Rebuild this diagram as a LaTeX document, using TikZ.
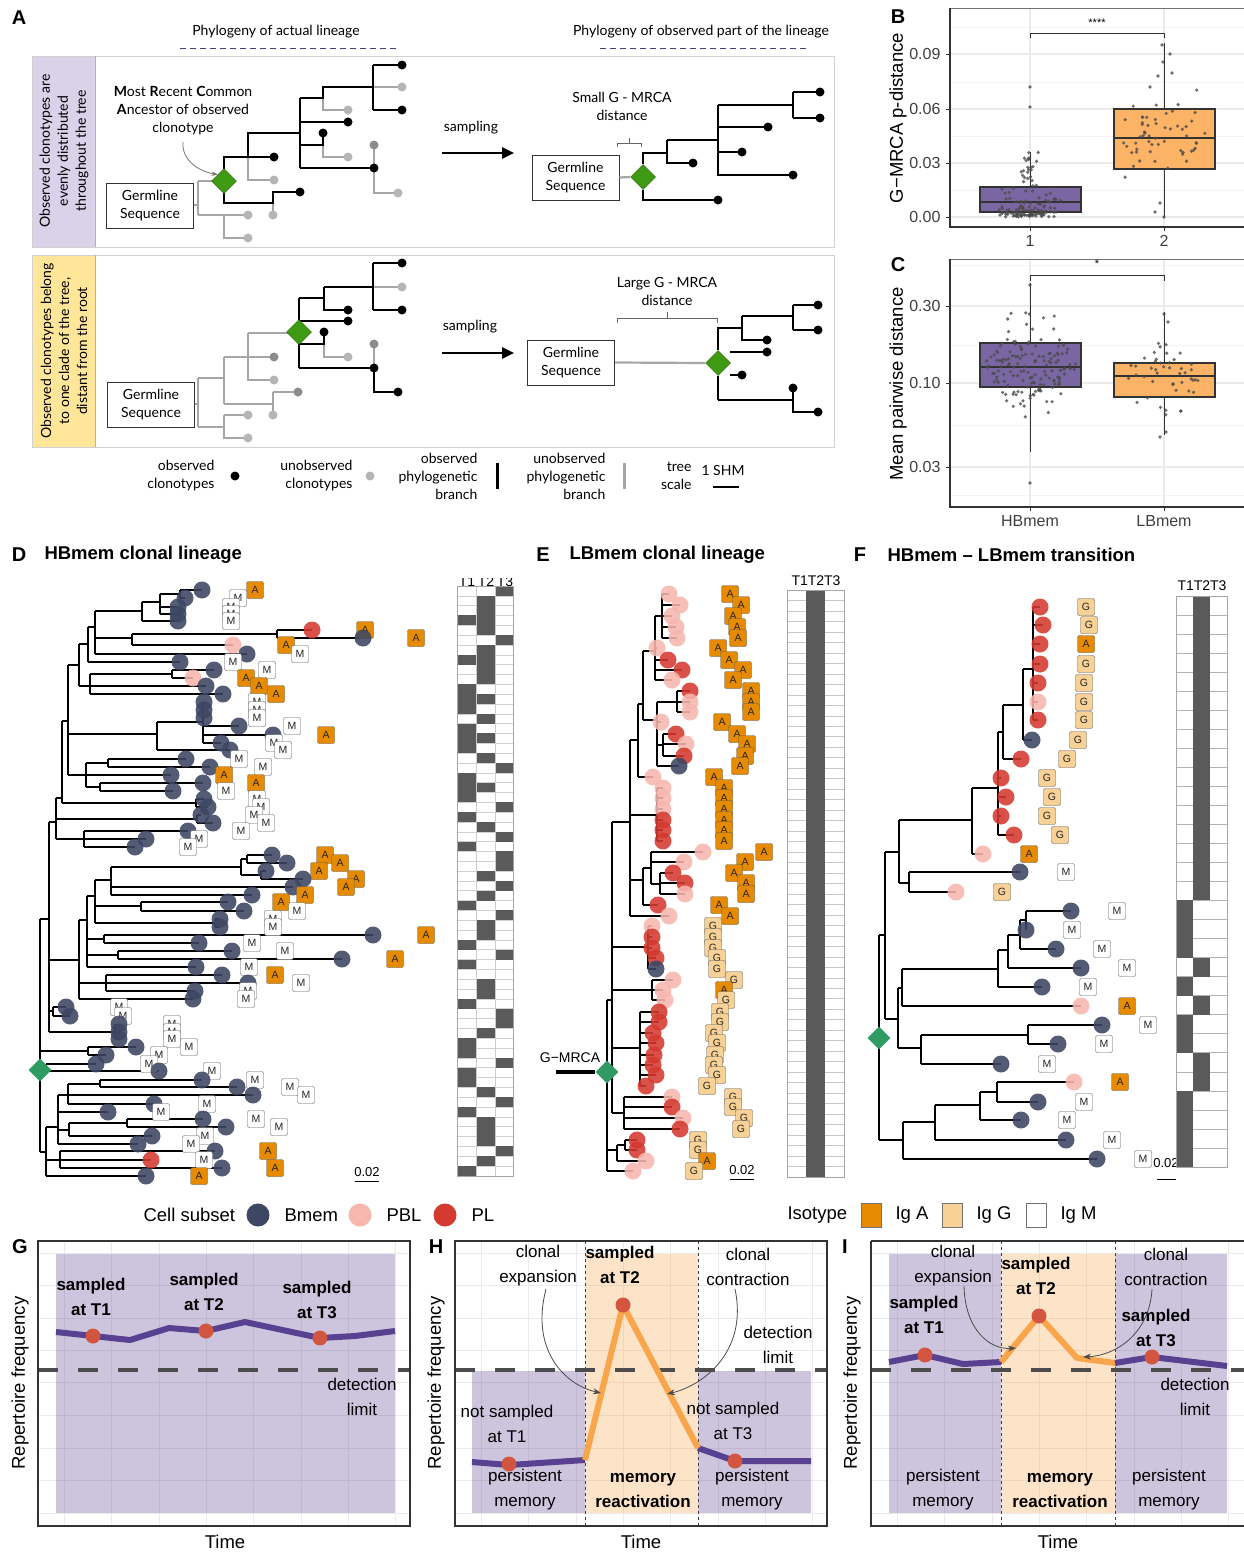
\documentclass[tikz,border=0pt]{standalone}
\usepackage{fontspec}
\setmainfont{Liberation Sans}
\newfontfamily\latofont{Lato}
\usetikzlibrary{positioning, arrows.meta, shapes.geometric}

\definecolor{mrcaA}{HTML}{3E9A13}
\definecolor{mrcaT}{HTML}{2E9C62}
\definecolor{stripP}{HTML}{D9D2E9}
\definecolor{stripY}{HTML}{FFE699}
\definecolor{titleline}{HTML}{4B3F8C}
\definecolor{ubr}{HTML}{A6A6A6}
\definecolor{udot}{HTML}{B5B5B5}
\definecolor{udotd}{HTML}{8C8C8C}
\definecolor{boxP}{HTML}{7A66A3}
\definecolor{boxO}{HTML}{FDB366}
\definecolor{gridc}{HTML}{EBEBEB}
\definecolor{cellb}{HTML}{3D4663}
\definecolor{cellp}{HTML}{F6B7AF}
\definecolor{cellr}{HTML}{D43A2F}
\definecolor{isoA}{HTML}{E68A00}
\definecolor{isoG}{HTML}{F8D196}
\definecolor{isoM}{HTML}{FFFFFF}
\definecolor{heat}{HTML}{5A5A5A}
\definecolor{lineP}{HTML}{574190}
\definecolor{lineO}{HTML}{F9A54C}
\definecolor{dotR}{HTML}{D2553F}

\newcommand\fpanel{\fontsize{20}{22}\selectfont\bfseries}
\newcommand\fschem{\latofont\fontsize{14}{18}\selectfont}
\newcommand\ftick{\fontsize{16}{18}\selectfont}
\newcommand\faxis{\fontsize{18.5}{20}\selectfont}
\newcommand\ftree{\fontsize{18.5}{20}\selectfont\bfseries}
\newcommand\fcurve{\fontsize{17}{25}\selectfont}

\tikzset{
  obsbr/.style={line width=2.2pt, black},
  unobsbr/.style={line width=2.2pt, ubr},
  obsdot/.style={circle, fill=black, inner sep=0pt, minimum size=9pt},
  unobsdot/.style={circle, fill=udot, inner sep=0pt, minimum size=9pt},
  unobsdark/.style={circle, fill=udotd, inner sep=0pt, minimum size=9pt},
  germbox/.style={draw=black!80, fill=white, line width=0.8pt, minimum width=87pt, minimum height=45pt, align=center, font=\fschem},
  greendiamond/.style={diamond, fill=mrcaA, draw=mrcaA!70!black, line width=0.5pt, inner sep=0pt, minimum size=25pt},
  tealdiamond/.style={diamond, fill=mrcaT, inner sep=0pt, minimum size=23pt},
  treebr/.style={line width=1.2pt, black},
  cellnode/.style={circle, inner sep=0pt, minimum size=17pt, fill opacity=0.88},
  isolab/.style={draw=black!65, rounded corners=2pt, inner sep=0pt, minimum width=17pt, minimum height=17pt, font=\fontsize{10.5}{11}\selectfont, text=black!85},
  boxpt/.style={fill=black!70, fill opacity=0.8},
  curvetext/.style={align=center, font=\fcurve},
  curvebold/.style={align=center, font=\fcurve\bfseries},
  heatframe/.style={draw=black!35, line width=0.6pt},
}

% tree D: clades xparent/x/y/ytop/ybottom and leaves y/xparent/xtip/cell/isotype
\def\cladesD{40/40/919/919/1152, 40/49/919/822/1032, 49/56/822/798/839, 56/62/798/721/803,
 62/196/803/799/807, 56/197/819/815/823, 56/84/839/831/847, 62/68/721/665/775,
 68/79/665/644/686, 79/88/644/627/662, 88/95/627/611/654, 95/142/611/602/621,
 142/160/602/594/614, 160/180/594/590/598, 95/132/638/634/645, 132/277/634/630/638,
 79/90/686/674/694, 90/172/674/670/678, 68/157/734/722/750, 157/203/722/702/743,
 68/86/775/763/787, 86/108/763/759/767, 86/100/787/783/791, 49/79/960/920/999,
 79/87/920/896/967, 87/95/896/880/923, 95/111/880/867/895, 111/241/867/859/875,
 241/247/859/855/863, 241/261/875/871/879, 95/141/906/902/911, 95/215/923/919/927,
 87/104/939/935/943, 87/118/955/951/959, 79/106/983/975/991, 49/53/1011/1007/1016,
 49/115/1032/1024/1039, 40/88/1051/1047/1055, 40/46/1067/1064/1071, 40/46/1152/1127/1176,
 46/58/1127/1095/1144, 58/68/1095/1084/1104, 68/100/1084/1080/1087, 58/69/1130/1123/1136,
 69/127/1123/1119/1127, 46/60/1160/1151/1168}
\def\leavesD{590/180/202/b/A, 598/180/185/b/M, 607/160/178/b/M, 614/160/178/b/M, 621/142/178/b/M,
 630/277/312/r/A, 638/277/363/b/A, 645/132/233/p/A, 654/95/247/b/M, 662/88/180/b/M,
 670/172/214/b/M, 678/172/193/p/A, 686/90/206/b/A, 694/90/223/b/A, 702/203/204/b/M,
 710/203/204/b/M, 718/203/204/b/M, 726/203/239/b/M, 735/203/273/b/A, 743/203/221/b/M,
 750/157/230/b/M, 759/108/186/b/M, 767/108/210/b/M, 775/86/171/b/A, 783/100/203/b/A,
 791/100/173/b/M, 799/196/204/b/M, 807/196/208/b/M, 815/197/201/b/M, 823/197/213/b/M,
 831/84/188/b/M, 839/84/146/b/M, 847/84/135/b/M, 855/247/272/b/A, 863/247/287/b/A,
 871/261/266/b/A, 879/261/303/b/A, 887/111/293/b/A, 895/111/252/b/A, 902/141/228/b/A,
 911/141/244/b/M, 919/215/220/b/M, 927/215/220/b/M, 935/104/373/b/A, 943/104/199/b/M,
 951/118/232/b/M, 959/118/342/b/A, 967/87/196/b/M, 975/106/222/b/A, 983/106/248/b/M,
 991/106/195/b/M, 999/79/193/b/M, 1007/53/66/b/M, 1016/53/70/b/M, 1024/115/119/b/M,
 1032/115/119/b/M, 1039/115/119/b/M, 1047/88/136/b/M, 1055/88/106/b/M, 1064/46/96/b/M,
 1071/46/159/b/M, 1080/100/202/b/M, 1087/100/237/b/M, 1095/68/253/b/M, 1104/68/154/b/M,
 1112/58/108/b/M, 1119/127/203/b/M, 1127/127/226/b/M, 1136/69/152/b/M, 1144/58/138/b/M,
 1151/60/215/b/A, 1160/60/151/r/M, 1168/60/222/b/A, 1176/46/146/b/A}

\def\cladesE{607/607/1000/1000/1171, 607/612/1000/822/1113, 612/630/822/740/916, 630/638/740/704/777,
 638/643/704/651/720, 643/655/651/616/680, 655/662/616/594/638, 643/657/720/702/766,
 657/677/702/691/712, 657/663/745/734/756, 630/657/815/788/841, 630/643/880/868/905,
 643/651/868/852/884, 651/660/884/873/894, 612/648/947/926/969, 612/652/990/980/1000,
 612/640/1048/1012/1086, 612/624/1113/1097/1129, 607/617/1150/1145/1161, 617/625/1145/1140/1150}
\def\leavesE{594/662/669/p/A, 605/662/680/p/A, 616/662/672/p/A, 627/662/676/p/A, 638/662/677/p/A,
 648/655/657/p/A, 660/655/668/r/A, 670/655/682/r/A, 680/655/672/p/A, 691/677/690/r/A,
 702/677/690/p/A, 712/677/690/p/A, 722/657/661/p/A, 734/663/676/r/A, 744/663/686/p/A,
 756/663/684/r/A, 766/657/679/b/A, 777/638/653/p/A, 788/657/663/p/A, 798/657/663/p/A,
 809/657/663/p/A, 820/657/663/r/A, 830/657/663/r/A, 841/657/663/r/A, 852/651/703/p/A,
 862/651/684/p/A, 873/660/673/r/A, 883/660/685/r/A, 894/660/685/p/A, 905/643/658/r/A,
 916/630/669/p/A, 926/648/652/p/G, 937/648/652/r/G, 948/648/652/r/G, 958/648/656/r/G,
 969/648/656/b/G, 980/652/673/p/G, 990/652/663/p/A, 1000/652/665/p/G, 1012/640/659/r/G,
 1022/640/659/r/G, 1033/640/653/r/G, 1043/640/656/r/G, 1055/640/654/r/G, 1065/640/653/r/G,
 1075/640/656/r/G, 1086/640/646/r/G, 1097/624/672/p/G, 1107/624/672/r/G, 1118/624/683/p/G,
 1129/624/680/r/G, 1140/625/637/r/G, 1150/625/637/r/G, 1161/617/646/p/A, 1171/607/633/p/G}

\def\cladesF{1023/1033/669/607/720, 1003/1023/705/669/740, 998/1003/732/705/759, 972/998/788/732/835,
 899/972/820/788/854, 899/909/883/872/892, 885/899/852/820/883, 879/885/935/852/1019,
 885/898/1019/988/1048, 898/902/988/969/1006, 902/998/969/950/987, 998/1008/950/935/968,
 1008/1020/935/920/949, 1020/1026/920/911/930, 898/921/1048/1035/1064, 921/1028/1035/1025/1044,
 879/879/935/935/1140, 879/903/1140/1122/1159, 903/935/1122/1105/1140, 935/980/1105/1092/1120,
 980/997/1092/1082/1102}
\def\leavesF{607/1033/1040/r/G, 625/1033/1043/r/G, 644/1033/1040/r/A, 664/1033/1040/r/G, 683/1033/1038/r/G,
 702/1033/1038/p/G, 720/1033/1038/r/G, 740/1023/1032/b/G, 759/1003/1021/r/G, 778/998/1001/r/G,
 797/998/1006/r/G, 816/998/1001/r/G, 835/998/1014/r/G, 854/972/983/p/A, 872/909/1020/b/M,
 892/909/956/p/G, 911/1026/1071/b/M, 930/1026/1026/b/M, 949/1020/1056/b/M, 968/1008/1081/b/M,
 987/998/1042/b/M, 1006/902/1081/p/A, 1025/1028/1102/b/M, 1044/1028/1058/b/M, 1064/921/1001/b/M,
 1082/997/1074/p/A, 1102/997/1038/b/M, 1120/980/1021/b/M, 1140/935/1066/b/M, 1159/903/1097/b/M}

\begin{document}
\begin{tikzpicture}[x=1pt, y=-1pt, >=Stealth]
\useasboundingbox (0,0) rectangle (1244,1553);
\fill[white] (0,0) rectangle (1244,1553);

%% ---------------- A ----------------
\node[font=\fpanel] (lblA) at (19,18) {A};
\node[font=\fschem] (ttlact) at (276,32) {Phylogeny of actual lineage};
\node[font=\fschem] (ttlobs) at (701,32) {Phylogeny of observed part of the lineage};
\draw[titleline, line width=1pt, dash pattern=on 6pt off 4pt] (180,48) -- (398,48);
\draw[titleline, line width=1pt, dash pattern=on 6pt off 4pt] (600,48) -- (808,48);
\fill[stripP] (32,56) rectangle (95,247);
\fill[stripY] (32,255) rectangle (95,447);
\draw[black!18, line width=1pt] (32,56) rectangle (834,247);
\draw[black!18, line width=1pt] (32,255) rectangle (834,447);
\draw[black!30] (95,56) -- (95,247) (95,255) -- (95,447);
\node[rotate=90, align=center, font=\fschem] (stripa) at (64,151) {Observed clonotypes are\\evenly distributed\\throughout the tree};
\node[rotate=90, align=center, font=\fschem] (stripb) at (64,351) {Observed clonotypes belong\\to one clade of the tree,\\distant from the root};

% actual lineage, evenly sampled
\draw[unobsbr] (193,205) -- (198,205) (198,181) -- (198,215) (198,181) -- (224,181)
  (198,215) -- (248,215) (224,215) -- (224,238) -- (248,238)
  (248,157) -- (248,180) -- (274,180)
  (323,98) -- (323,110) -- (348,110) (373,87) -- (402,87)
  (323,145) -- (323,157) -- (348,157)
  (374,145) -- (374,168) (374,168) -- (374,193) -- (398,193)
  (273,203) -- (273,215);
\draw[obsbr] (224,181) -- (224,157) -- (274,157) (248,157) -- (248,133) -- (300,133)
  (300,98) -- (300,168) (300,98) -- (323,98) -- (323,87) -- (373,87)
  (373,65) -- (373,110) (373,65) -- (402,65) (373,110) -- (402,110)
  (300,122) -- (348,122) (300,145) -- (323,145) -- (323,133)
  (300,168) -- (374,168)
  (224,181) -- (224,203) -- (273,203) -- (273,192) -- (300,192);
\foreach \p [count=\k] in {(274,157),(402,65),(402,110),(348,122),(323,133),(374,168),(300,192)}
  \node[obsdot] (tlo\k) at \p {};
\foreach \p [count=\k] in {(274,180),(348,110),(402,87),(348,157),(398,193),(273,215),(248,215),(248,238)}
  \node[unobsdot] (tlu\k) at \p {};
\node[unobsdark] (tld1) at (374,145) {};
\node[germbox] (gTL) at (150,205.5) {Germline\\Sequence};
\node[greendiamond] (dTL) at (224,181) {};
\node[align=center, font=\fschem] (mrcatxt) at (183,111) {\textbf{M}ost \textbf{R}ecent \textbf{C}ommon\\\textbf{A}ncestor of observed\\clonotype};
\draw[-{Stealth[length=6pt]}, black!55, line width=0.8pt] ([yshift=-3pt]mrcatxt.south) to[out=-95, in=170] (dTL.north west);

% observed part, evenly sampled
\node[font=\fschem] (samp1) at (471,128) {sampling};
\coordinate (s1a) at (442,153);
\coordinate (s1b) at (514,153);
\draw[-{Triangle[length=12pt, width=11pt]}, line width=2.6pt] (s1a) -- (s1b);
\node[align=center, font=\fschem] (smalltxt) at (622,106) {Small G - MRCA\\distance};
\draw[black!60, line width=0.8pt] (617,147) -- (617,143) -- (641,143) -- (641,147) (629,143) -- (629,138);
\node[germbox] (gTR) at (575.5,177.5) {Germline\\Sequence};
\node[greendiamond] (dTR) at (643,177) {};
\draw[unobsbr] (gTR.east) -- (dTR.west);
\draw[obsbr] (643,164) -- (643,153) -- (667,153) (643,190) -- (643,200) -- (718,200)
  (667,140) -- (667,163) -- (693,163)
  (667,140) -- (718,140) (718,105) -- (718,175) -- (793,175) (718,105) -- (793,105)
  (793,92) -- (793,118) (793,92) -- (820,92) (793,118) -- (820,118)
  (718,127) -- (768,127) (718,152) -- (742,152);
\foreach \p [count=\k] in {(693,163),(820,92),(820,118),(768,127),(742,152),(793,175),(718,200)}
  \node[obsdot] (tro\k) at \p {};

% actual lineage, one clade
\draw[unobsbr] (195,404) -- (198,404) (198,378) -- (198,427)
  (198,378) -- (224,378) (224,357) -- (224,404)
  (224,357) -- (248,357) (248,333) -- (248,380) -- (274,380) (248,333) -- (299,333) (248,357) -- (274,357)
  (224,404) -- (273,404) (273,392) -- (273,415) (273,392) -- (298,392)
  (198,427) -- (224,427) (224,415) -- (224,438) -- (248,438) (224,415) -- (248,415)
  (324,344) -- (324,357) -- (348,357) (373,287) -- (402,287) (374,344) -- (374,368);
\draw[obsbr] (299,298) -- (299,368) (299,298) -- (324,298) (324,287) -- (324,310) -- (348,310)
  (324,287) -- (373,287) (373,263) -- (373,310) (373,263) -- (402,263) (373,310) -- (402,310)
  (299,321) -- (348,321) (299,344) -- (324,344) -- (324,332)
  (299,368) -- (374,368) -- (374,392) -- (398,392);
\foreach \p [count=\k] in {(348,310),(402,263),(402,310),(348,321),(324,332),(374,368),(398,392)}
  \node[obsdot] (blo\k) at \p {};
\foreach \p [count=\k] in {(274,380),(273,415),(248,415),(248,438),(348,357),(402,287)}
  \node[unobsdot] (blu\k) at \p {};
\foreach \p [count=\k] in {(274,357),(298,392),(374,344)}
  \node[unobsdark] (bld\k) at \p {};
\node[germbox] (gBL) at (151,404.5) {Germline\\Sequence};
\node[greendiamond] (dBL) at (299,332) {};

% observed part, one clade
\node[font=\fschem] (samp2) at (470,327) {sampling};
\coordinate (s2a) at (442,353);
\coordinate (s2b) at (514,353);
\draw[-{Triangle[length=12pt, width=11pt]}, line width=2.6pt] (s2a) -- (s2b);
\node[align=center, font=\fschem] (largetxt) at (667,291) {Large G - MRCA\\distance};
\draw[black!60, line width=0.8pt] (617,323) -- (617,318) -- (717,318) -- (717,323) (667,318) -- (667,312);
\node[germbox] (gBR) at (571,362.5) {Germline\\Sequence};
\node[greendiamond] (dBR) at (718,363) {};
\draw[unobsbr] (gBR.east) -- (dBR.west);
\draw[obsbr] (718,350) -- (718,328) -- (742,328) (718,376) -- (718,400) (742,316) -- (742,340) -- (767,340)
  (742,316) -- (793,316) (793,305) -- (793,330) (793,305) -- (818,305) (793,330) -- (818,330)
  (730,352) -- (767,352) (730,375) -- (742,375) (718,400) -- (793,400) (793,388) -- (793,412) -- (818,412);
\foreach \p [count=\k] in {(767,340),(818,305),(818,330),(767,352),(742,375),(793,388),(818,412)}
  \node[obsdot] (bro\k) at \p {};

% legend of A
\node[align=right, anchor=east, font=\fschem] (lgobs) at (218,476) {observed\\clonotypes};
\node[obsdot] (lgobsdot) at (235,476) {};
\node[align=right, anchor=east, font=\fschem] (lgun) at (356,476) {unobserved\\clonotypes};
\node[unobsdot] (lgundot) at (370,476) {};
\node[align=right, anchor=east, font=\fschem] (lgobr) at (481,476) {observed\\phylogenetic\\branch};
\coordinate (lgobra) at (497,463);
\coordinate (lgobrb) at (497,489);
\draw[line width=3pt] (lgobra) -- (lgobrb);
\node[align=right, anchor=east, font=\fschem] (lgubr) at (609,476) {unobserved\\phylogenetic\\branch};
\coordinate (lguba) at (624,463);
\coordinate (lgubb) at (624,489);
\draw[line width=3pt, ubr] (lguba) -- (lgubb);
\node[align=right, anchor=east, font=\fschem] (lgsc) at (695,476) {tree\\scale};
\node[font=\fschem] (lgshm) at (723,470) {1 SHM};
\coordinate (lgsca) at (713,487);
\coordinate (lgscb) at (739,487);
\draw[line width=2.4pt] (lgsca) -- (lgscb);

%% ---------------- B ----------------
\node[font=\fpanel] (lblB) at (898,17) {B};
\foreach \gy in {27,82,136,190} \draw[gridc!60, line width=0.6pt] (950,\gy) -- (1244,\gy);
\foreach \gy in {54,109,163,217} \draw[gridc, line width=1.1pt] (950,\gy) -- (1244,\gy);
\foreach \gx in {1030,1164} \draw[gridc, line width=1.1pt] (\gx,8) -- (\gx,227);
\draw[black!80, line width=1pt] (1030,152) -- (1030,217) (1164,43) -- (1164,217);
\filldraw[fill=boxP, draw=black!80, line width=1.1pt] (980,187) rectangle (1081,212);
\filldraw[fill=boxO, draw=black!80, line width=1.1pt] (1114,109) rectangle (1215,169);
\draw[black!80, line width=2.6pt] (980,202) -- (1081,202) (1114,138) -- (1215,138);
\pgfmathsetseed{2024}
\foreach \k in {1,...,110}{
  \pgfmathsetmacro\px{1030+62*(rnd-0.5)}
  \pgfmathsetmacro\py{217-32*rnd*rnd}
  \fill[boxpt] (\px,\py) circle (1.8);
}
\foreach \k in {1,...,24}{
  \pgfmathsetmacro\px{1030+18*(rnd-0.5)}
  \pgfmathsetmacro\py{186-34*rnd}
  \fill[boxpt] (\px,\py) circle (1.8);
}
\foreach \k in {1,...,55}{
  \pgfmathsetmacro\px{1164+82*(rnd-0.5)}
  \pgfmathsetmacro\py{138+40*(rnd+rnd+rnd-1.5)}
  \fill[boxpt] (\px,\py) circle (1.8);
}
\foreach \p in {(1030,87),(1030,107),(1162,45),(1170,54),(1163,62),(1158,76),(1150,87),(1172,73),(1155,212),(1164,217),(1160,203)}
  \fill[boxpt] \p circle (1.8);
\draw[black!55, line width=0.8pt] (950,8) -- (1244,8);
\draw[black!80, line width=1.4pt] (950,8) -- (950,227) -- (1244,227);
\foreach \ty/\tl in {217/0.00,163/0.03,109/0.06,54/0.09}{
  \draw[black!80, line width=1pt] (946,\ty) -- (950,\ty);
  \node[anchor=east, font=\ftick, text=black!75] (tkB\ty) at (944,\ty) {\tl};
}
\foreach \tx/\tl in {1030/1,1164/2}{
  \draw[black!80, line width=1pt] (\tx,227) -- (\tx,231);
  \node[font=\ftick, text=black!75] (txB\tx) at (\tx,241) {\tl};
}
\node[rotate=90, font=\faxis] (ytB) at (898,118) {G−MRCA p-distance};
\draw[black!80, line width=0.8pt] (1030,38) -- (1030,33) -- (1164,33) -- (1164,38);
\node[font=\fontsize{11}{12}\selectfont] (sigB) at (1097,23) {****};

%% ---------------- C ----------------
\node[font=\fpanel] (lblC) at (898,265) {C};
\foreach \gy in {265,345,425,495} \draw[gridc!60, line width=0.6pt] (950,\gy) -- (1244,\gy);
\foreach \gy in {306,383,467} \draw[gridc, line width=1.1pt] (950,\gy) -- (1244,\gy);
\foreach \gx in {1030,1164} \draw[gridc, line width=1.1pt] (\gx,259) -- (\gx,507);
\draw[black!80, line width=1pt] (1030,283) -- (1030,452) (1164,312) -- (1164,435);
\filldraw[fill=boxP, draw=black!80, line width=1.1pt] (980,343) rectangle (1081,387);
\filldraw[fill=boxO, draw=black!80, line width=1.1pt] (1114,363) rectangle (1215,397);
\draw[black!80, line width=2.6pt] (980,367) -- (1081,367) (1114,376) -- (1215,376);
\foreach \k in {1,...,150}{
  \pgfmathsetmacro\dy{38*(rnd+rnd+rnd+rnd-2)}
  \pgfmathsetmacro\px{1030+(rnd-0.5)*95*(1-abs(\dy)/100)}
  \pgfmathsetmacro\py{365+\dy}
  \fill[boxpt] (\px,\py) circle (1.8);
}
\foreach \k in {1,...,45}{
  \pgfmathsetmacro\dy{32*(rnd+rnd+rnd+rnd-2)}
  \pgfmathsetmacro\px{1164+(rnd-0.5)*85*(1-abs(\dy)/80)}
  \pgfmathsetmacro\py{374+\dy}
  \fill[boxpt] (\px,\py) circle (1.8);
}
\foreach \p in {(1030,483),(1030,285),(1164,314),(1166,432),(1160,437),(1168,322)}
  \fill[boxpt] \p circle (1.8);
\draw[black!55, line width=0.8pt] (950,259) -- (1244,259);
\draw[black!80, line width=1.4pt] (950,259) -- (950,507) -- (1244,507);
\foreach \ty/\tl in {306/0.30,383/0.10,467/0.03}{
  \draw[black!80, line width=1pt] (946,\ty) -- (950,\ty);
  \node[anchor=east, font=\ftick, text=black!75] (tkC\ty) at (944,\ty) {\tl};
}
\foreach \tx/\tl in {1030/HBmem,1164/LBmem}{
  \draw[black!80, line width=1pt] (\tx,507) -- (\tx,511);
  \node[font=\ftick, text=black!75] (txC\tx) at (\tx,521) {\tl};
}
\node[rotate=90, font=\faxis] (ytC) at (898,384) {Mean pairwise distance};
\draw[black!80, line width=0.8pt] (1030,281) -- (1030,275) -- (1164,275) -- (1164,281);
\node[font=\fontsize{11}{12}\selectfont] (sigC) at (1097,264) {*};

%% ---------------- D ----------------
\node[font=\fpanel] (lblD) at (19,555) {D};
\node[anchor=west, font=\ftree] (ttlD) at (41,555) {HBmem clonal lineage};
\foreach \xa/\xb/\yy/\ya/\yb in \cladesD{
  \draw[treebr] (\xa,\yy) -- (\xb,\yy);
  \draw[treebr] (\xb,\ya) -- (\xb,\yb);
}
\foreach \ly/\lp/\lt/\lc/\li in \leavesD
  \draw[treebr] (\lp,\ly) -- (\lt,\ly);
\foreach \ly/\lp/\lt/\lc/\li [count=\k] in \leavesD{
  \node[cellnode, fill=cell\lc] (dD\k) at (\lt,\ly) {};
  \node[isolab, fill=iso\li] (iD\k) at (\lt+53,\ly) {\li};
}
\node[tealdiamond] (dDroot) at (40,1070) {};
\node[font=\fontsize{13}{14}\selectfont] (scD) at (367,1172) {0.02};
\draw[line width=1pt] (355,1181) -- (379,1181);
% heatmap D
\foreach \r in {1,...,59} \draw[black!18, line width=0.5pt] (457,586+\r*9.83) -- (513,586+\r*9.83);
\foreach \r in {3,7,10,11,12,14,15,16,19,20,21,23,26,32,36,38,42,46,47,49,50,53,59}
  \fill[heat] (457,586+\r*9.83) rectangle ++(19,9.83);
\foreach \r in {1,2,3,4,6,7,8,9,11,13,15,17,20,24,29,31,34,35,40,41,45,51,54,55,56,58}
  \fill[heat] (476,586+\r*9.83) rectangle ++(19,9.83);
\foreach \r in {0,5,18,22,25,27,28,30,33,37,43,44,48,52,57}
  \fill[heat] (495,586+\r*9.83) rectangle ++(18,9.83);
\draw[black!20] (476,586) -- (476,1176) (495,586) -- (495,1176);
\draw[heatframe] (457,586) rectangle (513,1176);
\begin{scope}
  \clip (450,578.6) rectangle (520,592);
  \node[font=\fontsize{14}{15}\selectfont] (hdD1) at (467,582) {T1};
  \node[font=\fontsize{14}{15}\selectfont] (hdD2) at (486,582) {T2};
  \node[font=\fontsize{14}{15}\selectfont] (hdD3) at (505,582) {T3};
\end{scope}

%% ---------------- E ----------------
\node[font=\fpanel] (lblE) at (543,555) {E};
\node[anchor=west, font=\ftree] (ttlE) at (566,555) {LBmem clonal lineage};
\foreach \xa/\xb/\yy/\ya/\yb in \cladesE{
  \draw[treebr] (\xa,\yy) -- (\xb,\yy);
  \draw[treebr] (\xb,\ya) -- (\xb,\yb);
}
\foreach \ly/\lp/\lt/\lc/\li in \leavesE
  \draw[treebr] (\lp,\ly) -- (\lt,\ly);
\foreach \ly/\lp/\lt/\lc/\li [count=\k] in \leavesE{
  \node[cellnode, fill=cell\lc] (dE\k) at (\lt,\ly) {};
  \node[isolab, fill=iso\li] (iE\k) at (\lt+61,\ly) {\li};
}
\node[font=\fontsize{14}{15}\selectfont] (gmrca) at (570,1058) {G−MRCA};
\node[tealdiamond] (dEroot) at (607,1072) {};
\coordinate (gmrcaend) at (556,1072);
\draw[line width=4pt] (gmrcaend) -- (dEroot.west);
\node[font=\fontsize{13}{14}\selectfont] (scE) at (742,1170) {0.02};
\draw[line width=1pt] (730,1179) -- (754,1179);
% heatmap E
\foreach \r in {1,...,55} \draw[black!22, line width=0.5pt] (787,590+\r*10.48) -- (844,590+\r*10.48);
\fill[heat] (806,590) rectangle (825,1177);
\draw[heatframe] (787,590) rectangle (844,1177);
\node[font=\fontsize{14}{15}\selectfont] (hdE) at (816,581) {T1T2T3};

%% ---------------- F ----------------
\node[font=\fpanel] (lblF) at (860,555) {F};
\node[anchor=west, font=\ftree] (ttlF) at (884,555) {HBmem – LBmem transition};
\foreach \xa/\xb/\yy/\ya/\yb in \cladesF{
  \draw[treebr] (\xa,\yy) -- (\xb,\yy);
  \draw[treebr] (\xb,\ya) -- (\xb,\yb);
}
\foreach \ly/\lp/\lt/\lc/\li in \leavesF
  \draw[treebr] (\lp,\ly) -- (\lt,\ly);
\foreach \ly/\lp/\lt/\lc/\li [count=\k] in \leavesF{
  \node[cellnode, fill=cell\lc] (dF\k) at (\lt,\ly) {};
  \node[isolab, fill=iso\li] (iF\k) at (\lt+46,\ly) {\li};
}
\node[tealdiamond] (dFroot) at (879,1038) {};
\node[font=\fontsize{13}{14}\selectfont] (scF) at (1166,1163) {0.02};
\draw[line width=1pt] (1157,1179) -- (1176,1179);
% heatmap F
\foreach \r in {1,...,29} \draw[black!30, line width=0.5pt] (1176,596+\r*19.03) -- (1227,596+\r*19.03);
\foreach \r in {16,17,18,20,22,23,26,27,28,29}
  \fill[heat] (1176,596+\r*19.03) rectangle ++(17,19.03);
\foreach \r in {0,...,15,19,21,24,25}
  \fill[heat] (1193,596+\r*19.03) rectangle ++(17,19.03);
\draw[heatframe] (1176,596) rectangle (1227,1167);
\node[font=\fontsize{14}{15}\selectfont] (hdF) at (1202,586) {T1T2T3};

%% ---------------- legend row ----------------
\node[anchor=west, font=\faxis] (lgcell) at (140,1215) {Cell subset};
\node[circle, fill=cellb, minimum size=23pt, inner sep=0pt] (lgb) at (258,1215) {};
\node[anchor=west, font=\faxis] (lgbt) at (281,1215) {Bmem};
\node[circle, fill=cellp, minimum size=23pt, inner sep=0pt] (lgp) at (360,1215) {};
\node[anchor=west, font=\faxis] (lgpt) at (383,1215) {PBL};
\node[circle, fill=cellr, minimum size=23pt, inner sep=0pt] (lgr) at (445,1215) {};
\node[anchor=west, font=\faxis] (lgrt) at (468,1215) {PL};
\node[anchor=west, font=\faxis] (lgiso) at (784,1215) {Isotype};
\foreach \cx/\ci/\ct in {871/isoA/Ig A, 952/isoG/Ig G, 1036/isoM/Ig M}{
  \node[draw=black!55, fill=\ci, minimum width=20pt, minimum height=24pt, inner sep=0pt] (lg\ci) at (\cx,1215) {};
  \node[anchor=west, font=\faxis] (lgt\ci) at (\cx+21,1215) {\ct};
}

%% ---------------- G ----------------
\node[font=\fpanel] (lblG) at (20,1247) {G};
\foreach \gx in {64,111,159,206,253,301,348,395} \draw[gridc, line width=1pt] (\gx,1241) -- (\gx,1526);
\foreach \gy in {1253,1285,1318,1350,1382,1415,1448,1480,1513} \draw[gridc, line width=1pt] (38,\gy) -- (410,\gy);
\fill[lineP, fill opacity=0.3] (56,1254) rectangle (395,1513);
\draw[black!70, line width=4.5pt, dash pattern=on 20pt off 20pt] (38,1370) -- (410,1370);
\draw[lineP, line width=6pt, line join=round] (56,1332) -- (93,1336) -- (130,1340) -- (169,1328) -- (206,1331) -- (245,1322) -- (320,1338) -- (355,1336) -- (395,1331);
\foreach \p [count=\k] in {(93,1336),(206,1331),(320,1338)}
  \node[circle, fill=dotR, minimum size=15pt, inner sep=0pt] (gdot\k) at \p {};
\node[curvebold] (gs1) at (91,1297) {sampled\\at T1};
\node[curvebold] (gs2) at (204,1292) {sampled\\at T2};
\node[curvebold] (gs3) at (317,1300) {sampled\\at T3};
\node[curvetext] (gdl) at (362,1397) {detection\\limit};
\draw[black!80, line width=1.2pt] (38,1241) rectangle (410,1526);
\node[rotate=90, font=\faxis] (yG) at (20,1383) {Repertoire frequency};
\node[font=\faxis] (tG) at (225,1542) {Time};

%% ---------------- H ----------------
\node[font=\fpanel] (lblH) at (436,1247) {H};
\foreach \gx in {481,528,576,623,670,718,765,812} \draw[gridc, line width=1pt] (\gx,1241) -- (\gx,1526);
\foreach \gy in {1253,1285,1318,1350,1382,1415,1448,1480,1513} \draw[gridc, line width=1pt] (455,\gy) -- (827,\gy);
\fill[lineP, fill opacity=0.3] (472,1371) rectangle (585,1513);
\fill[lineP, fill opacity=0.3] (698,1371) rectangle (811,1513);
\fill[lineO, fill opacity=0.3] (585,1254) rectangle (698,1513);
\draw[black!75, dashed, line width=1pt] (585,1241) -- (585,1526) (698,1241) -- (698,1526);
\draw[black!70, line width=4.5pt, dash pattern=on 20pt off 20pt] (455,1370) -- (827,1370);
\draw[lineP, line width=6pt, line join=round] (472,1462) -- (509,1465) -- (585,1460);
\draw[lineP, line width=6pt, line join=round] (698,1448) -- (735,1461) -- (811,1461);
\draw[lineO, line width=6pt, line join=round] (585,1460) -- (623,1305) -- (698,1448);
\foreach \p [count=\k] in {(509,1464),(623,1305),(735,1461)}
  \node[circle, fill=dotR, minimum size=15pt, inner sep=0pt] (hdot\k) at \p {};
\node[curvetext] (hexp) at (538,1266) {clonal\\expansion};
\node[curvebold] (hs2) at (620,1265) {sampled\\at T2};
\node[curvetext] (hcon) at (748,1267) {clonal\\contraction};
\node[curvetext] (hdl) at (778,1345) {detection\\limit};
\node[curvetext] (hn1) at (507,1424) {not sampled\\at T1};
\node[curvetext] (hn3) at (733,1421) {not sampled\\at T3};
\node[curvetext] (hp1) at (525,1490) {persistent\\memory};
\node[curvebold] (hmr) at (643,1490) {memory\\reactivation};
\node[curvetext] (hp3) at (752,1490) {persistent\\memory};
\coordinate (hexpend) at (601,1393);
\coordinate (hconend) at (667,1394);
\draw[-{Stealth[length=8pt]}, black!70, line width=0.8pt] (546,1289) .. controls (530,1350) and (565,1385) .. (hexpend);
\draw[-{Stealth[length=8pt]}, black!70, line width=0.8pt] (735,1289) .. controls (748,1350) and (705,1385) .. (hconend);
\draw[black!80, line width=1.2pt] (455,1241) rectangle (827,1526);
\node[rotate=90, font=\faxis] (yH) at (436,1383) {Repertoire frequency};
\node[font=\faxis] (tH) at (641,1542) {Time};

%% ---------------- I ----------------
\node[font=\fpanel] (lblI) at (845,1247) {I};
\foreach \gx in {897,944,992,1039,1086,1134,1181,1228} \draw[gridc, line width=1pt] (\gx,1241) -- (\gx,1526);
\foreach \gy in {1253,1285,1318,1350,1382,1415,1448,1480,1513} \draw[gridc, line width=1pt] (871,\gy) -- (1244,\gy);
\fill[lineP, fill opacity=0.3] (889,1254) rectangle (1001,1513);
\fill[lineP, fill opacity=0.3] (1115,1254) rectangle (1227,1513);
\fill[lineO, fill opacity=0.3] (1001,1254) rectangle (1115,1513);
\draw[black!75, dashed, line width=1pt] (1001,1241) -- (1001,1526) (1115,1241) -- (1115,1526);
\draw[black!70, line width=4.5pt, dash pattern=on 20pt off 20pt] (871,1370) -- (1244,1370);
\draw[lineP, line width=6pt, line join=round] (889,1362) -- (925,1355) -- (963,1364) -- (1001,1362);
\draw[lineO, line width=6pt, line join=round] (1001,1362) -- (1039,1316) -- (1077,1358) -- (1115,1363);
\draw[lineP, line width=6pt, line join=round] (1115,1363) -- (1152,1357) -- (1227,1366);
\foreach \p [count=\k] in {(925,1355),(1039,1316),(1152,1357)}
  \node[circle, fill=dotR, minimum size=15pt, inner sep=0pt] (idot\k) at \p {};
\node[curvetext] (iexp) at (953,1266) {clonal\\expansion};
\node[curvebold] (is2) at (1036,1276) {sampled\\at T2};
\node[curvetext] (icon) at (1166,1267) {clonal\\contraction};
\node[curvebold] (is1) at (924,1315) {sampled\\at T1};
\node[curvebold] (is3) at (1156,1328) {sampled\\at T3};
\node[curvetext] (idl) at (1195,1397) {detection\\limit};
\node[curvetext] (ip1) at (943,1490) {persistent\\memory};
\node[curvebold] (imr) at (1060,1490) {memory\\reactivation};
\node[curvetext] (ip3) at (1169,1490) {persistent\\memory};
\coordinate (iexpend) at (1016,1348);
\coordinate (iconend) at (1083,1357);
\draw[-{Stealth[length=8pt]}, black!70, line width=0.8pt] (964,1286) .. controls (965,1330) and (990,1350) .. (iexpend);
\draw[-{Stealth[length=8pt]}, black!70, line width=0.8pt] (1152,1289) .. controls (1150,1330) and (1120,1355) .. (iconend);
\draw[black!80, line width=1.2pt] (871,1241) -- (871,1526) -- (1244,1526) (871,1241) -- (1244,1241);
\node[rotate=90, font=\faxis] (yI) at (852,1383) {Repertoire frequency};
\node[font=\faxis] (tI) at (1058,1542) {Time};
\end{tikzpicture}
\end{document}
